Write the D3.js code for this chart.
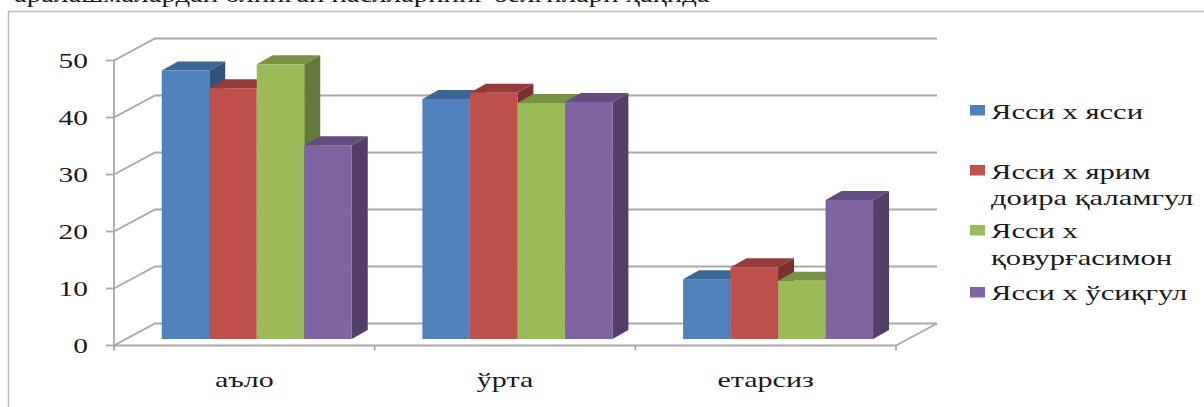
<!DOCTYPE html>
<html>
<head>
<meta charset="utf-8">
<script src="https://cdnjs.cloudflare.com/ajax/libs/d3/7.8.5/d3.min.js"></script>
<style>
  html, body { margin: 0; padding: 0; background: #fff; overflow: hidden; }
  svg { display: block; }
  text { font-family: "Liberation Serif", serif; fill: #1a1a1a; }
</style>
</head>
<body>
<svg id="chart" width="1204" height="407"></svg>
<script>
// Chart data
const categories = ["аъло", "ўрта", "етарсиз"];
const seriesNames = ["Ясси х ясси", "Ясси х ярим доира қаламгул", "Ясси х қовурғасимон", "Ясси х ўсиқгул"];
const flatFlat = [47.1, 42.1, 10.5];
const flatSemicircle = [44, 43.2, 12.6];
const flatRibbed = [48.2, 41.4, 10.2];
const flatGrowth = [34, 41.6, 24.4];
const valueTicks = [0, 10, 20, 30, 40, 50];

const seriesValues = [flatFlat, flatSemicircle, flatRibbed, flatGrowth];
const frontColors = ["#4f81bd", "#c0504d", "#9bbb59", "#8064a2"];
const topColors = ["#3d6695", "#953c3a", "#789345", "#634c80"];
const sideColors = ["#30527c", "#7b302e", "#647a39", "#533e67"];

// Legend text, wrapped the way it is set in the chart
const legendLines = [
  ["Ясси х ясси"],
  ["Ясси х ярим", "доира қаламгул"],
  ["Ясси х", "қовурғасимон"],
  ["Ясси х ўсиқгул"]
];
const legendBaselines = [[119], [179, 205], [238, 265], [300]];
const legendSwatchY = [105, 165, 225, 287];

const svg = d3.select("#chart");
const gridColor = "#a8a8a8";

// Caption running off the top of the sheet, above the chart frame
svg.append("text")
  .attr("transform", "translate(14,1.5) scale(1.25,1)")
  .attr("font-size", 23)
  .attr("fill", "#111")
  .text("аралашмалардан олинган наслларнинг белгилари ҳақида");

// Outer chart frame: only the top and left edges fall on the sheet
svg.append("path")
  .attr("d", "M8.5,407V11.5H1204")
  .attr("fill", "none")
  .attr("stroke", "#bdbdbd")
  .attr("stroke-width", 1.5);

// Scales on the front plane of the box
const y = d3.scaleLinear().domain([0, 50]).range([345.5, 60.5]);
const x0 = d3.scaleBand().domain(categories).range([114, 896]);
const barWidth = 47.5;
const x1 = d3.scaleBand()
  .domain(d3.range(seriesNames.length))
  .range([0, barWidth * seriesNames.length]);
const groupInset = (x0.bandwidth() - x1.range()[1]) / 2;

// Depth of the box and of the bars
const boxDx = 41, boxDy = -22;
const barShiftX = 12.4, barShiftY = -6.5;
const barDx = 16, barDy = -9;

// Walls and floor lines
const grid = svg.append("g")
  .attr("fill", "none")
  .attr("stroke", gridColor)
  .attr("stroke-width", 1.8);

grid.selectAll("path.wall")
  .data(valueTicks)
  .join("path")
  .attr("class", "wall")
  .attr("d", v => {
    const yv = y(v);
    return `M${x0.range()[0]},${yv}L${x0.range()[0] + boxDx},${yv + boxDy}H${x0.range()[1] + boxDx}`;
  });

grid.append("path")
  .attr("d", `M${x0.range()[1]},${y(0)}L${x0.range()[1] + boxDx},${y(0) + boxDy}`);

// Value axis and category axis on the front edge
const axisLine = d3.line();
grid.append("path").attr("d", axisLine([[x0.range()[0], y(50)], [x0.range()[0], y(0) + 5]]));
grid.append("path").attr("d", axisLine([[x0.range()[0], y(0)], [x0.range()[1], y(0)]]));

grid.selectAll("path.ytick")
  .data(valueTicks)
  .join("path")
  .attr("class", "ytick")
  .attr("d", v => axisLine([[x0.range()[0] - 8, y(v)], [x0.range()[0], y(v)]]));

grid.selectAll("path.xtick")
  .data(categories.map(c => x0(c)).concat(x0.range()[1]))
  .join("path")
  .attr("class", "xtick")
  .attr("d", xv => axisLine([[xv, y(0)], [xv, y(0) + 5]]));

// Stretched serif text, as set in the chart
svg.append("g").selectAll("text")
  .data(valueTicks)
  .join("text")
  .attr("text-anchor", "end")
  .attr("font-size", 21)
  .attr("transform", v => `translate(88,${y(v) + 7.5}) scale(1.4,1)`)
  .text(v => v);

svg.append("g").selectAll("text")
  .data(categories)
  .join("text")
  .attr("text-anchor", "middle")
  .attr("font-size", 20)
  .attr("transform", c => `translate(${x0(c) + x0.bandwidth() / 2},387) scale(1.5,1)`)
  .text(c => c);

// Bars, painted left to right so each front face covers its neighbour's side
const bars = svg.append("g");
categories.forEach((cat, ci) => {
  seriesValues.forEach((values, si) => {
    const left = x0(cat) + groupInset + x1(si) + barShiftX;
    const right = left + x1.bandwidth();
    const base = y(0) + barShiftY;
    const top = y(values[ci]) + barShiftY;
    const g = bars.append("g");
    g.append("path")
      .attr("fill", sideColors[si])
      .attr("d", `M${right},${base}V${top}L${right + barDx},${top + barDy}V${base + barDy}Z`);
    g.append("path")
      .attr("fill", topColors[si])
      .attr("d", `M${left},${top}H${right}L${right + barDx},${top + barDy}H${left + barDx}Z`);
    g.append("rect")
      .attr("x", left).attr("y", top)
      .attr("width", right - left).attr("height", base - top)
      .attr("fill", frontColors[si]);
  });
});

// Legend
const legend = svg.append("g");
legend.selectAll("rect")
  .data(seriesNames)
  .join("rect")
  .attr("x", 970)
  .attr("y", (d, i) => legendSwatchY[i])
  .attr("width", 15).attr("height", 10.5)
  .attr("fill", (d, i) => frontColors[i]);

legendLines.forEach((lines, i) => {
  lines.forEach((line, j) => {
    legend.append("text")
      .attr("font-size", 20)
      .attr("transform", `translate(991,${legendBaselines[i][j]}) scale(1.53,1)`)
      .text(line);
  });
});
</script>
</body>
</html>
